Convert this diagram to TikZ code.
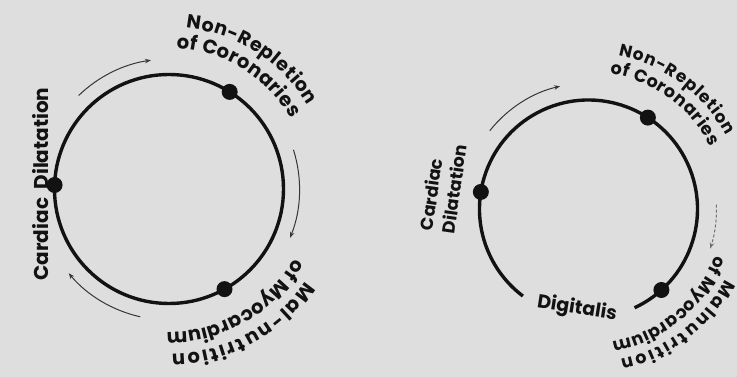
\documentclass[tikz,border=0pt]{standalone}
\usepackage{fontspec}
\setmainfont{Poppins}
\usetikzlibrary{decorations.text,arrows.meta,calc}
\definecolor{bg}{RGB}{222,222,222}
\definecolor{ink}{RGB}{18,18,18}
\begin{document}
\begin{tikzpicture}[x=1pt,y=1pt,
  ring/.style={line width=3.4pt, draw=ink},
  dotmark/.style={circle, fill=ink, inner sep=0pt, minimum size=16pt},
  flow/.style={line width=1pt, draw=ink!85, -{Stealth[length=6pt,width=4.5pt]}},
  curvetext/.style={decorate, decoration={text along path, text align=fit to path, text color=ink}},
  biglbl/.style={font=\bfseries\fontsize{20}{22}\selectfont, text=ink, inner sep=0pt},
  smalllbl/.style={font=\bfseries\fontsize{17.5}{22}\selectfont, text=ink, inner sep=0pt, align=left}]
\fill[bg] (0,0) rectangle (737,377);
\useasboundingbox (0,0) rectangle (737,377);

% ---------- left diagram ----------
\coordinate (LC) at (169,188);
\draw[ring] (LC) circle[radius=114.5];
\node[dotmark] (Ldil) at ([shift={(178:114.5)}]LC) {};
\node[dotmark] (Lrep) at ([shift={(58:114.5)}]LC) {};
\node[dotmark] (Lmal) at ([shift={(-61:114.5)}]LC) {};

\draw[flow] ([shift={(134:130)}]LC) arc[start angle=134, end angle=98, radius=130];
\draw[flow] ([shift={(17.5:130.5)}]LC) arc[start angle=17.5, end angle=-22, radius=130.5];
\draw[flow] ([shift={(-102.7:131)}]LC) arc[start angle=-102.7, end angle=-140, radius=131];

\node[biglbl, rotate=90] (Ltxt) at (41,193) {Cardiac\ \ Dilatation};

\path[curvetext, decoration={text={|\bfseries\fontsize{19}{22}\selectfont|Non-Repletion}}]
  ([shift={(84:162)}]LC) arc[start angle=84, end angle=31, radius=162];
\path[curvetext, decoration={text={|\bfseries\fontsize{19.5}{22}\selectfont|of Coronaries}}]
  ([shift={(87:141)}]LC) arc[start angle=87, end angle=30, radius=141];
\path[curvetext, decoration={text={|\bfseries\fontsize{19.5}{22}\selectfont|Mal-nutrition}}]
  ([shift={(-34:165)}]LC) arc[start angle=-34, end angle=-89, radius=165];
\path[curvetext, decoration={text={|\bfseries\fontsize{19.5}{22}\selectfont|of Myocardium}}]
  ([shift={(-29:143)}]LC) arc[start angle=-29, end angle=-91, radius=143];

% ---------- right diagram ----------
\coordinate (RC) at (588.5,168);
\draw[ring] ([shift={(-65:109)}]RC) arc[start angle=-65, end angle=233, radius=109];
\node[dotmark] (Rdil) at ([shift={(171:109)}]RC) {};
\node[dotmark] (Rrep) at ([shift={(57:109)}]RC) {};
\node[dotmark] (Rmal) at ([shift={(-48:109)}]RC) {};

\draw[flow] ([shift={(141.6:126)}]RC) arc[start angle=141.6, end angle=103, radius=126];
\draw[flow, densely dashed, draw=ink!60] ([shift={(2:128)}]RC) arc[start angle=2, end angle=-18, radius=128];

\node[smalllbl, rotate=82] (Rtxt) at (443,189.5) {Cardiac\\Dilatation};
\node[smalllbl, font=\bfseries\fontsize{19}{22}\selectfont, rotate=-9] (Rdig) at (577,68) {Digitalis};

\path[curvetext, decoration={text={|\bfseries\fontsize{17}{22}\selectfont|Non-Repletion}}]
  ([shift={(79:156)}]RC) arc[start angle=79, end angle=28, radius=156];
\path[curvetext, decoration={text={|\bfseries\fontsize{17.5}{22}\selectfont|of Coronaries}}]
  ([shift={(81:137)}]RC) arc[start angle=81, end angle=27, radius=137];
\path[curvetext, decoration={text={|\bfseries\fontsize{17.5}{22}\selectfont|Malnutrition}}]
  ([shift={(-27:154)}]RC) arc[start angle=-27, end angle=-78, radius=154];
\path[curvetext, decoration={text={|\bfseries\fontsize{17.5}{22}\selectfont|of Myocardium}}]
  ([shift={(-20:135)}]RC) arc[start angle=-20, end angle=-80, radius=135];
\end{tikzpicture}
\end{document}
